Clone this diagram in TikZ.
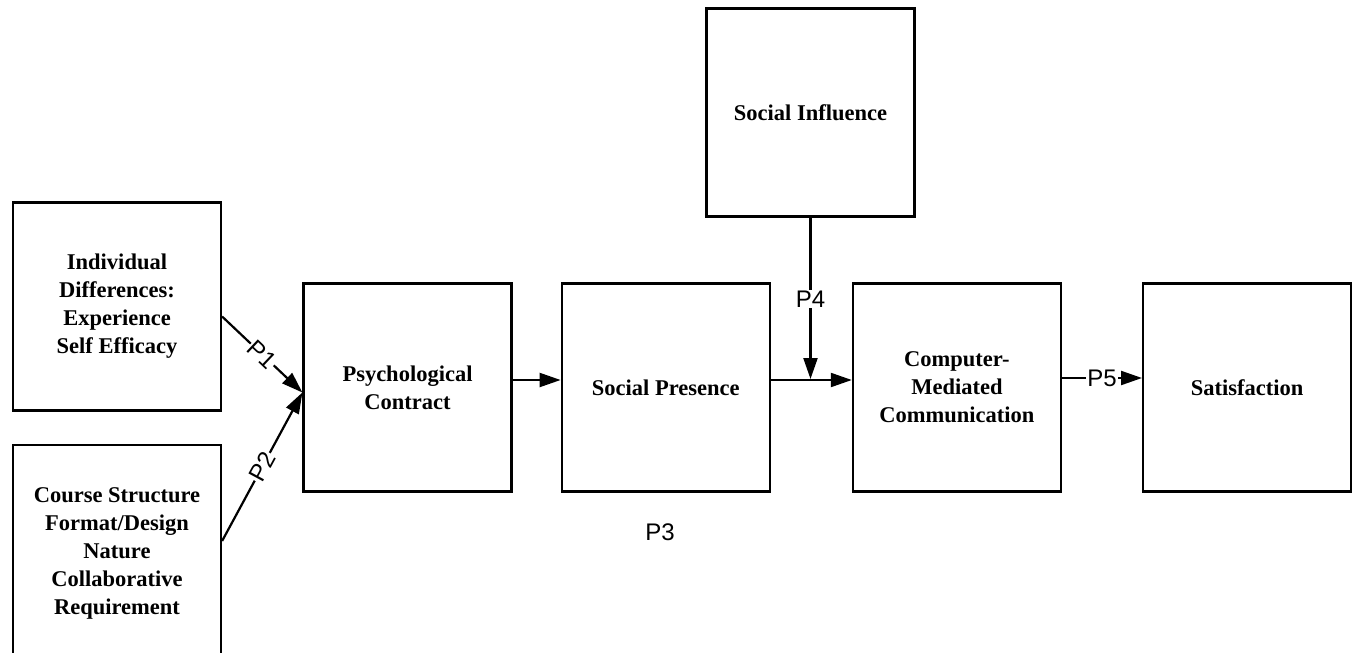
\documentclass[tikz,border=0pt]{standalone}
\usepackage{fontspec}
\setmainfont{Liberation Serif}
\newfontfamily\plabfont{Liberation Sans}
\usetikzlibrary{positioning, arrows.meta}
\tikzset{
  box/.style ={draw, rectangle, minimum width=208pt, minimum height=208pt,
               align=center, font=\fontsize{22.5}{28}\selectfont\bfseries},
  plab/.style={font=\fontsize{24}{26}\selectfont\plabfont, fill=white, inner sep=1pt}
}

\begin{document}
\begin{tikzpicture}[x=1pt, y=-1pt, ->, >={Triangle[length=21pt,width=14pt]},
                    line width=2.2pt, node distance=48pt]
\useasboundingbox (0,0) rectangle (1353,653);
\node[box] (pc) at (407.5,387.5) {Psychological\\Contract};
\node[box, right=48pt of pc] (sp) {Social Presence};
\node[box, right=81pt of sp] (cmc) {Computer-\\Mediated\\Communication};
\node[box, right=80pt of cmc] (sat) {Satisfaction};
\node[box] (id) at (117,306.5) {Individual\\Differences:\\Experience\\Self Efficacy};
\node[box, minimum height=216pt] (cs) at (117,553) {Course Structure\\Format/Design\\Nature\\Collaborative\\Requirement};
\node[box] (si) at (810.5,112.5) {Social Influence};
\node[plab] (p3) at (660,532) {P3};

\coordinate (pin) at ([yshift=-5pt]pc.west);
\coordinate (spout) at ([yshift=7.5pt]sp.east);
\coordinate (join) at (si.south |- spout);

\path[->]
    ([yshift=-10pt]id.east) edge node[plab, sloped] {P1} (pin)
    ([yshift=12pt]cs.east) edge node[plab, sloped] {P2} (pin)
    ([yshift=7.5pt]pc.east) edge ([yshift=7.5pt]sp.west)
    (spout) edge ([yshift=7.5pt]cmc.west)
    (si.south) edge[shorten >=1pt] node[plab] {P4} (join)
    ([yshift=9.5pt]cmc.east) edge node[plab] {P5} ([yshift=9.5pt]sat.west);
\end{tikzpicture}
\end{document}
